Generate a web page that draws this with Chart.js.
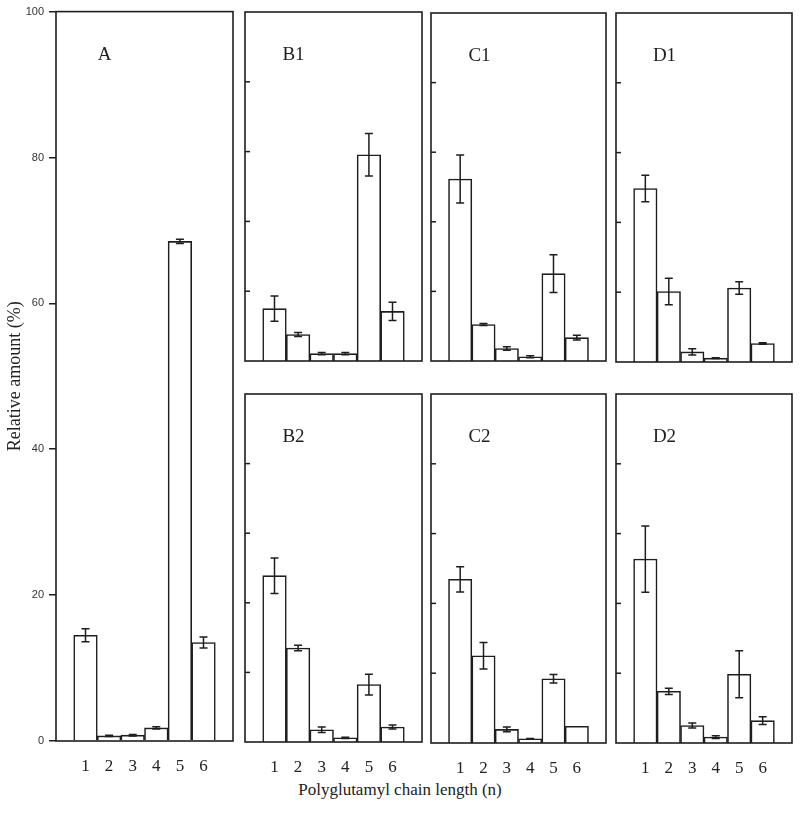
<!DOCTYPE html>
<html>
<head>
<meta charset="utf-8">
<script src="https://cdn.jsdelivr.net/npm/chart.js@4"></script>
<style>
  html, body { margin: 0; padding: 0; background: #ffffff; }
  body { width: 800px; height: 813px; position: relative; overflow: hidden; }
  canvas { position: absolute; }
  #xtitle { position: absolute; left: 0; width: 800px; top: 780px; height: 20px; line-height: 20px;
            text-align: center; font-family: "Liberation Serif", "Times New Roman", serif; font-size: 17px; color: #222; }
</style>
</head>
<body>
<div id="xtitle">Polyglutamyl chain length (n)</div>
<script>
// ---- data ----
const chainLengths = [1, 2, 3, 4, 5, 6];
const yTickValues = [0, 20, 40, 60, 80, 100];
const panelNames = ["A", "B1", "C1", "D1", "B2", "C2", "D2"];

const valuesA  = [14.5, 0.7, 0.8, 1.8, 68.5, 13.5];
const errorsA  = [0.9, 0.1, 0.1, 0.15, 0.3, 0.75];
const valuesB1 = [15.0, 7.6, 2.1, 2.1, 59.1, 14.2];
const errorsB1 = [3.6, 0.6, 0.3, 0.3, 6.1, 2.6];
const valuesC1 = [52.3, 10.5, 3.6, 1.2, 25.1, 6.7];
const errorsC1 = [6.9, 0.3, 0.5, 0.3, 5.4, 0.7];
const valuesD1 = [49.7, 20.2, 2.9, 1.1, 21.2, 5.3];
const errorsD1 = [3.8, 3.8, 0.9, 0.1, 1.8, 0.2];
const valuesB2 = [47.8, 27.0, 3.5, 1.2, 16.5, 4.3];
const errorsB2 = [5.1, 0.8, 0.8, 0.2, 3.0, 0.6];
const valuesC2 = [46.9, 25.0, 3.9, 1.2, 18.4, 4.8];
const errorsC2 = [3.6, 3.8, 0.7, 0.1, 1.2, 0];
const valuesD2 = [52.7, 14.8, 5.0, 1.7, 19.7, 6.4];
const errorsD2 = [9.5, 0.9, 0.7, 0.4, 6.7, 1.1];

const yTitle = "Relative amount (%)";

// ---- styling ----
const INK = "#1e1e1e";
const SERIF = '"Liberation Serif", "Times New Roman", serif';
const SANS = '"Liberation Sans", Arial, sans-serif';

const panelPlugin = {
  id: "panelDecor",
  afterDatasetsDraw(chart) {
    const o = chart.options.plugins.panelDecor;
    const ctx = chart.ctx;
    const xs = chart.scales.x, ys = chart.scales.y;
    const area = chart.chartArea;
    ctx.save();
    // error bars
    ctx.strokeStyle = INK;
    ctx.lineWidth = 1.5;
    const vals = chart.data.datasets[0].data;
    const errs = o.errors;
    vals.forEach((d, i) => {
      const e = errs[i];
      if (!e) return;
      const x = xs.getPixelForValue(d.x);
      const yT = ys.getPixelForValue(d.y + e);
      const yB = ys.getPixelForValue(Math.max(0, d.y - e));
      ctx.beginPath();
      ctx.moveTo(x, yT); ctx.lineTo(x, yB);
      ctx.moveTo(x - 4, yT); ctx.lineTo(x + 4, yT);
      ctx.moveTo(x - 4, yB); ctx.lineTo(x + 4, yB);
      ctx.stroke();
    });
    // inward ticks for small panels
    if (o.innerTicks) {
      ys.ticks.forEach(t => {
        const y = ys.getPixelForValue(t.value);
        ctx.beginPath();
        ctx.moveTo(area.left, y); ctx.lineTo(area.left + 5, y);
        ctx.stroke();
      });
    }
    // box
    ctx.lineWidth = 1.6;
    ctx.strokeRect(area.left, area.top, area.right - area.left, area.bottom - area.top);
    // panel letter
    ctx.fillStyle = INK;
    ctx.font = "19px " + SERIF;
    ctx.textAlign = "center";
    ctx.textBaseline = "middle";
    ctx.fillText(o.name, area.left + 48.5, area.top + 43);
    ctx.restore();
  }
};

function makePanel(name, rect, values, errors, cfg) {
  const L = cfg.L, T = cfg.T, R = cfg.R, B = cfg.B;
  const cv = document.createElement("canvas");
  const W = L + rect.w + R, H = T + rect.h + B;
  cv.width = W; cv.height = H;
  cv.style.left = (rect.l - L) + "px";
  cv.style.top = (rect.t - T) + "px";
  cv.style.width = W + "px"; cv.style.height = H + "px";
  document.body.appendChild(cv);

  new Chart(cv.getContext("2d"), {
    type: "bar",
    data: {
      datasets: [{
        data: chainLengths.map((c, i) => ({ x: c, y: values[i] })),
        backgroundColor: "#ffffff",
        borderColor: INK,
        borderWidth: 1.6,
        barPercentage: 1,
        categoryPercentage: 1
      }]
    },
    plugins: [panelPlugin],
    options: {
      responsive: false,
      animation: false,
      devicePixelRatio: 1,
      layout: { padding: { left: 0, top: T, right: R, bottom: 0 } },
      plugins: {
        legend: { display: false },
        tooltip: { enabled: false },
        panelDecor: { name: name, errors: errors, innerTicks: !cfg.yLabels }
      },
      scales: {
        x: {
          type: "linear",
          offset: false,
          min: -0.25, max: 7.25,
          border: { display: false },
          grid: { display: false },
          afterBuildTicks: s => { s.ticks = chainLengths.map(v => ({ value: v })); },
          afterFit: s => { s.height = B; },
          ticks: {
            display: cfg.xLabels,
            padding: 7,
            color: "#222",
            font: { family: SERIF, size: 17 },
            maxRotation: 0,
            autoSkip: false
          }
        },
        y: {
          min: 0, max: 100,
          border: { display: false },
          afterBuildTicks: s => {
            const v = cfg.yLabels ? yTickValues : yTickValues.filter(t => t > 0 && t < 100);
            s.ticks = v.map(t => ({ value: t }));
          },
          afterFit: s => { s.width = L; },
          grid: {
            display: cfg.yLabels,
            drawOnChartArea: false,
            drawTicks: true,
            tickLength: 7,
            color: INK,
            lineWidth: 1.5
          },
          ticks: {
            display: cfg.yLabels,
            padding: 5,
            color: "#333",
            font: { family: SANS, size: 11 }
          },
          title: {
            display: !!cfg.yTitle,
            text: cfg.yTitle || "",
            color: "#222",
            font: { family: SERIF, size: 18 },
            padding: { top: 4, bottom: 0 }
          }
        }
      }
    }
  });
}

const rects = [
  { l: 56,  t: 11,  w: 177, h: 730 },
  { l: 245, t: 12,  w: 177, h: 349 },
  { l: 431, t: 13,  w: 175, h: 348 },
  { l: 616, t: 13,  w: 176, h: 349 },
  { l: 245, t: 394, w: 177, h: 348 },
  { l: 431, t: 394, w: 175, h: 349 },
  { l: 616, t: 394, w: 176, h: 349 }
];
const allValues = [valuesA, valuesB1, valuesC1, valuesD1, valuesB2, valuesC2, valuesD2];
const allErrors = [errorsA, errorsB1, errorsC1, errorsD1, errorsB2, errorsC2, errorsD2];

panelNames.forEach((n, i) => {
  let cfg;
  if (i === 0) cfg = { L: 56, T: 11, R: 6, B: 40, yLabels: true, xLabels: true, yTitle: yTitle };
  else if (i <= 3) cfg = { L: 5, T: 5, R: 5, B: 5, yLabels: false, xLabels: false };
  else cfg = { L: 5, T: 5, R: 5, B: 40, yLabels: false, xLabels: true };
  makePanel(n, rects[i], allValues[i], allErrors[i], cfg);
});
</script>
</body>
</html>
